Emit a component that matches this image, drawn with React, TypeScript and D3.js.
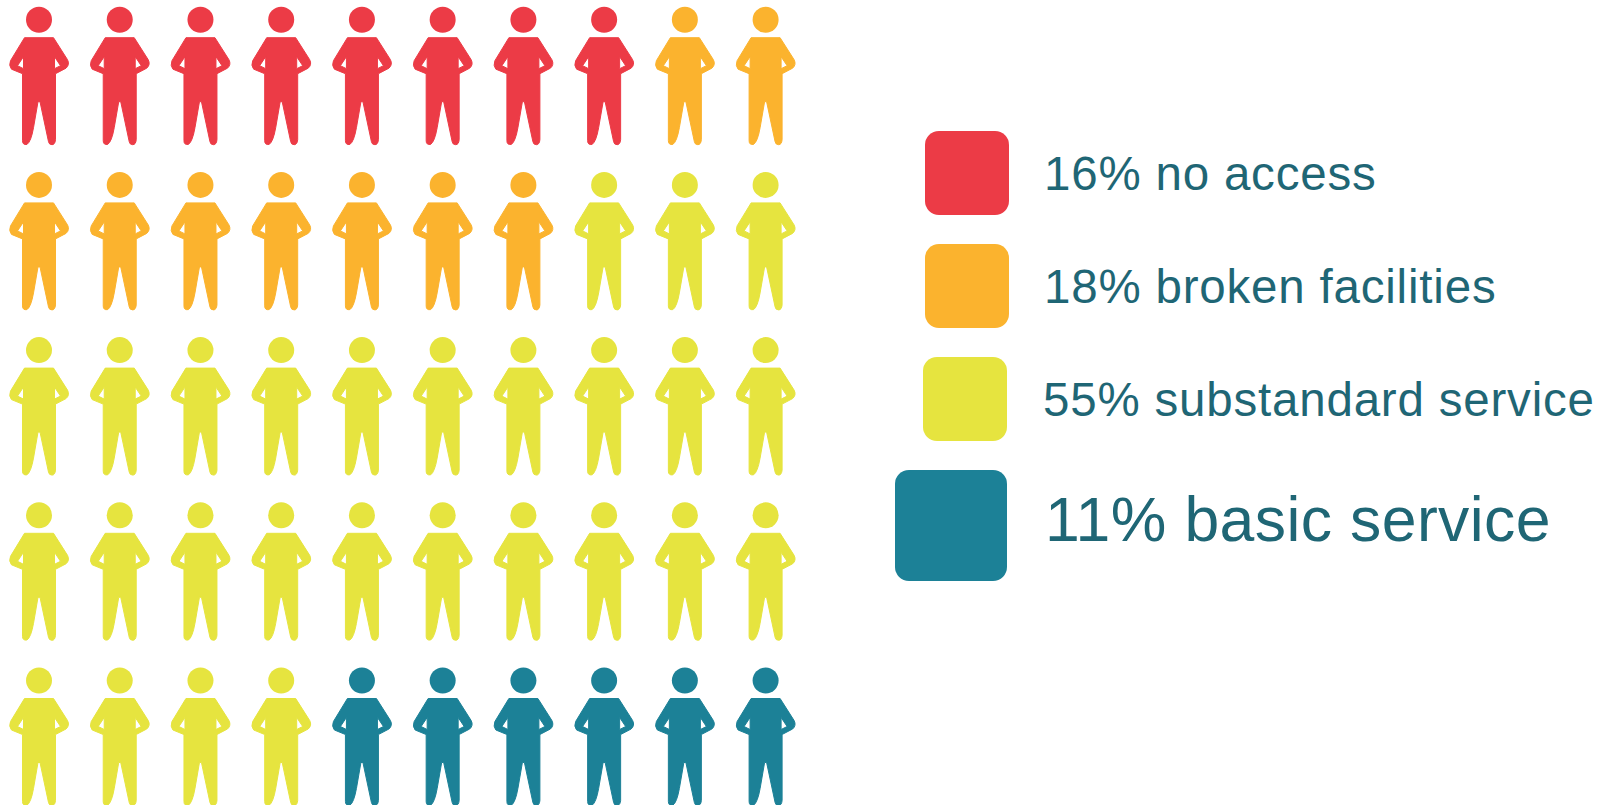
import React from "react";
import * as d3 from "d3";

// Legend entries, with the number of figures out of 50 each one colours
const labels = ["16% no access", "18% broken facilities", "55% substandard service", "11% basic service"];
const figureCounts = [8, 9, 27, 6];
const colors = ["#ec3b46", "#fbb32e", "#e6e43f", "#1c8197"];

// Grid of figures
const rowIndex = d3.range(5);
const colIndex = d3.range(10);

// Swatch boxes and text baselines for each legend entry: [x, y, width, height]
const swatches = [
  [925, 131, 84, 84],
  [925, 244, 84, 84],
  [923, 357, 84, 84],
  [895, 470, 112, 111],
];
const labelX = [1044, 1044, 1043, 1045];
const labelY = [190, 303, 416, 541];
const labelSize = [47.5, 47.5, 47.5, 62.5];
const labelTracking = [0.8, 0.8, 0.8, 0.4];

// Person glyph, drawn around the centre of the head
const BODY =
  "M-14.5 18 L14.5 18 L28.5 40 Q31 45 27 48.5 L16.5 54 L16.5 120 Q16 125 13 125 Q10 125 9.5 122 L1 82 L-1 82 L-5.5 108 Q-8 122 -12 124.7 Q-16.5 125.5 -16.5 121 L-16.5 54 L-27.5 49.5 Q-30.5 46 -28.5 41 Z " +
  "M-15.5 37 L-21.5 46 L-15.5 49 Z M15.5 37 L15.5 49 L21.5 46 Z";
const HEAD_R = 13;

const xScale = d3.scalePoint<number>().domain(colIndex).range([39, 765.6]);
const yScale = d3.scalePoint<number>().domain(rowIndex).range([19.7, 680.5]);

export default function App() {
  // Expand the counts into one colour per figure, filled row by row
  const fills = figureCounts.flatMap((n, i) => d3.range(n).map(() => colors[i]));
  const cells = rowIndex.flatMap((r) => colIndex.map((c) => ({ r, c, fill: fills[r * 10 + c] })));

  return (
    <svg
      width={1605}
      height={805}
      style={{ position: "absolute", left: 0, top: 0, background: "#fff" }}
    >
      {cells.map(({ r, c, fill }) => (
        <g key={`${r}-${c}`} transform={`translate(${xScale(c)},${yScale(r)})`} fill={fill}>
          <circle r={HEAD_R} />
          <path d={BODY} fillRule="evenodd" stroke={fill} strokeWidth={1} strokeLinejoin="round" />
        </g>
      ))}
      {labels.map((t, i) => (
        <g key={t}>
          <rect
            x={swatches[i][0]}
            y={swatches[i][1]}
            width={swatches[i][2]}
            height={swatches[i][3]}
            rx={14}
            fill={colors[i]}
          />
          <text
            x={labelX[i]}
            y={labelY[i]}
            fontFamily="'Liberation Sans', Arial, sans-serif"
            fontSize={labelSize[i]}
            letterSpacing={labelTracking[i]}
            fill="#1f6675"
          >
            {t}
          </text>
        </g>
      ))}
    </svg>
  );
}
